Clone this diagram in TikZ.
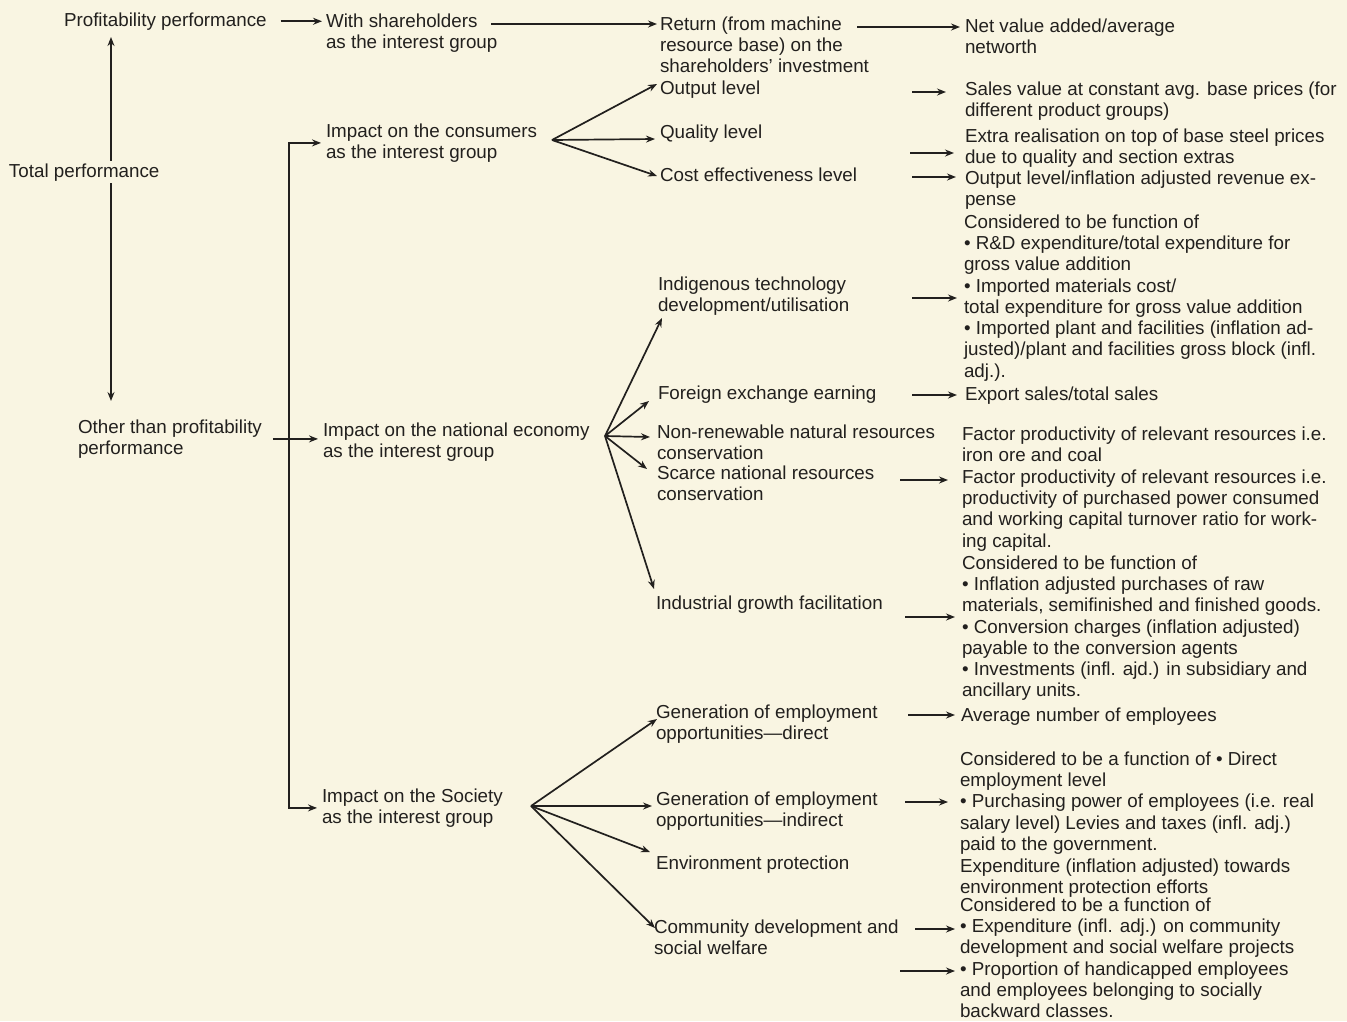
\documentclass[tikz,border=0pt]{standalone}
\usepackage{fontspec}
\setmainfont{Liberation Sans}
\usetikzlibrary{arrows.meta}
\definecolor{bgcream}{RGB}{249,245,226}
\definecolor{inkc}{RGB}{34,32,30}
\begin{document}
\begin{tikzpicture}[x=1pt,y=-1pt,
  txt/.style={anchor=north west, inner sep=0pt, outer sep=0pt, align=left, text=inkc, yshift=7.5pt,
    font=\fontsize{18.8}{21.3}\selectfont, execute at begin node={\rule{0pt}{13.5pt}}},
  arr/.style={draw=inkc, line width=1.7pt, -{Stealth[length=9pt,width=7pt,inset=3pt]}}]
\path[use as bounding box, fill=bgcream] (0,0) rectangle (1347,1021);

% left column
\node[txt] (prof) at (64,20) {Profitability performance};
\node[txt] (total) at (9,171) {Total performance};
\node[txt] (other) at (78,427) {Other than profitability\\performance};

% interest groups
\node[txt] (share) at (326,21) {With shareholders\\as the interest group};
\node[txt] (cons) at (326,131) {Impact on the consumers\\as the interest group};
\node[txt] (nat) at (323,430) {Impact on the national economy\\as the interest group};
\node[txt] (soc) at (322,796) {Impact on the Society\\as the interest group};

% aspects
\node[txt] (ret) at (660,24) {Return (from machine\\resource base) on the\\shareholders' investment};
\node[txt] (out) at (660,88) {Output level};
\node[txt] (qual) at (660,132) {Quality level};
\node[txt] (cost) at (660,175) {Cost effectiveness level};
\node[txt] (indig) at (658,284) {Indigenous technology\\development/utilisation};
\node[txt] (forex) at (658,393) {Foreign exchange earning};
\node[txt] (nonr) at (657,432) {Non-renewable natural resources\\conservation};
\node[txt] (scarce) at (657,473) {Scarce national resources\\conservation};
\node[txt] (indus) at (656,603) {Industrial growth facilitation};
\node[txt] (gdir) at (656,712) {Generation of employment\\opportunities—direct};
\node[txt] (gind) at (656,799) {Generation of employment\\opportunities—indirect};
\node[txt] (env) at (656,863) {Environment protection};
\node[txt] (comm) at (654,927) {Community development and\\social welfare};

% measures
\node[txt] (nva) at (965,26) {Net value added/average\\networth};
\node[txt] (sales) at (965,89) {Sales value at constant avg. base prices (for\\different product groups)};
\node[txt] (extra) at (965,136) {Extra realisation on top of base steel prices\\due to quality and section extras};
\node[txt] (oli) at (965,178) {Output level/inflation adjusted revenue ex-\\pense};
\node[txt] (cfa) at (964,222) {Considered to be function of\\• R\&D expenditure/total expenditure for\\gross value addition\\• Imported materials cost/\\total expenditure for gross value addition\\• Imported plant and facilities (inflation ad-\\justed)/plant and facilities gross block (infl.\\adj.).};
\node[txt] (exp) at (965,394) {Export sales/total sales};
\node[txt] (fpa) at (962,434) {Factor productivity of relevant resources i.e.\\iron ore and coal};
\node[txt] (fpb) at (962,477) {Factor productivity of relevant resources i.e.\\productivity of purchased power consumed\\and working capital turnover ratio for work-\\ing capital.};
\node[txt] (cfb) at (962,563) {Considered to be function of\\• Inflation adjusted purchases of raw\\materials, semifinished and finished goods.\\• Conversion charges (inflation adjusted)\\payable to the conversion agents\\• Investments (infl. ajd.) in subsidiary and\\ancillary units.};
\node[txt] (avg) at (961,715) {Average number of employees};
\node[txt] (cfc) at (960,759) {Considered to be a function of • Direct\\employment level\\• Purchasing power of employees (i.e. real\\salary level) Levies and taxes (infl. adj.)\\paid to the government.};
\node[txt] (expenv) at (960,866) {Expenditure (inflation adjusted) towards\\environment protection efforts};
\node[txt] (cfd) at (960,905) {Considered to be a function of\\• Expenditure (infl. adj.) on community\\development and social welfare projects\\• Proportion of handicapped employees\\and employees belonging to socially\\backward classes.};

% left vertical
\coordinate (vt) at (111,0);
\draw[arr] ([yshift=3pt]total.north -| vt) -- ([yshift=-7pt]prof.south -| vt);
\draw[arr] ([yshift=-2pt]total.south -| vt) -- ([yshift=18.5pt]other.north -| vt);

% to interest groups
\draw[arr, shorten <=14pt, shorten >=4pt] (prof.east) -- (prof.east -| share.west);
\draw[arr, shorten <=11pt, shorten >=5pt] (other.east) -- (other.east -| nat.west);
\coordinate (vx) at (289,0);
\draw[arr, shorten >=5pt] (vx |- other.east) |- (cons.west);
\draw[arr, shorten >=5pt] (vx |- other.east) |- (soc.west);

% shareholders
\draw[arr] ([shift={(-6,10.5)}]share.north east) -- ([shift={(-3,7.5)}]ret.north west);
\draw[arr] ([shift={(-12,10.5)}]ret.north east) -- ([shift={(-5,8.5)}]nva.north west);

% consumers fan
\coordinate (cf) at (552,140);
\draw[arr] (cf) -- ([shift={(-3,3.5)}]out.north west);
\draw[arr] (cf) -- ([shift={(-5,14.5)}]qual.north west);
\draw[arr] (cf) -- ([shift={(-3,8.5)}]cost.north west);

% national fan
\coordinate (nf) at (605,436);
\draw[arr] (nf) -- ([shift={(4,41.5)}]indig.north west);
\draw[arr] (nf) -- ([shift={(-9,15.5)}]forex.north west);
\draw[arr] (nf) -- ([shift={(-7,12.5)}]nonr.north west);
\draw[arr] (nf) -- ([shift={(-10,3.5)}]scarce.north west);
\draw[arr] (nf) -- ([shift={(-2,-6.5)}]indus.north west);

% society fan
\coordinate (sf) at (531,806);
\draw[arr] (sf) -- ([shift={(1,14.5)}]gdir.north west);
\draw[arr] (sf) -- ([shift={(-4,14.5)}]gind.north west);
\draw[arr] (sf) -- ([shift={(-6,-3.5)}]env.north west);
\draw[arr] (sf) -- ([shift={(1,8.5)}]comm.north west);

% measure arrows
\draw[arr] ([shift={(-53,10.5)}]sales.north west) -- ([shift={(-19,10.5)}]sales.north west);
\draw[arr] ([shift={(-55,24.5)}]extra.north west) -- ([shift={(-11,24.5)}]extra.north west);
\draw[arr] ([shift={(-53,6.5)}]oli.north west) -- ([shift={(-9,6.5)}]oli.north west);
\draw[arr] ([shift={(-52,83.5)}]cfa.north west) -- ([shift={(-7,83.5)}]cfa.north west);
\draw[arr] ([shift={(-53,8.5)}]exp.north west) -- ([shift={(-8,8.5)}]exp.north west);
\draw[arr] ([shift={(-62,10.5)}]fpb.north west) -- ([shift={(-14,10.5)}]fpb.north west);
\draw[arr] ([shift={(-57,61.5)}]cfb.north west) -- ([shift={(-7,61.5)}]cfb.north west);
\draw[arr] ([shift={(-53,7.5)}]avg.north west) -- ([shift={(-6,7.5)}]avg.north west);
\draw[arr] ([shift={(-55,50.5)}]cfc.north west) -- ([shift={(-12,50.5)}]cfc.north west);
\draw[arr] ([shift={(-45,31.5)}]cfd.north west) -- ([shift={(-5,31.5)}]cfd.north west);
\draw[arr] ([shift={(-60,73.5)}]cfd.north west) -- ([shift={(-5,73.5)}]cfd.north west);
\end{tikzpicture}
\end{document}
